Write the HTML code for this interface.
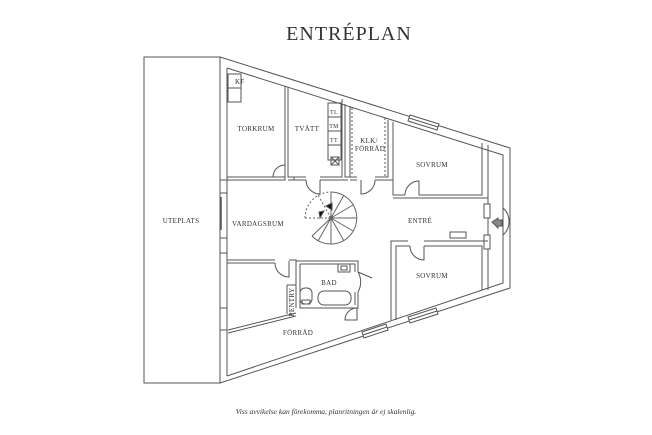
<!DOCTYPE html>
<html><head><meta charset="utf-8"><style>
html,body{margin:0;padding:0;background:#fff;width:652px;height:435px;overflow:hidden}
svg{display:block}
text{font-family:"Liberation Serif",serif;fill:#333}
.l{font-size:7px;letter-spacing:0.3px}
</style></head><body>
<svg width="652" height="435" viewBox="0 0 652 435" xmlns="http://www.w3.org/2000/svg">
<text x="349" y="40" text-anchor="middle" style="font-size:20px;letter-spacing:1px" fill="#222">ENTRÉPLAN</text>
<g fill="none" stroke="#555" stroke-width="1">
<rect x="144" y="57" width="76" height="326"/>
<polyline points="220,57 510,148 510,288 220,383"/>
<polyline points="227,68 503,155 503,283 227,376"/>
<line x1="227" y1="68" x2="227" y2="180"/>
<line x1="227" y1="193" x2="227" y2="238"/>
<line x1="227" y1="253" x2="227" y2="308"/>
<line x1="227" y1="330" x2="227" y2="376"/>
<rect x="220" y="180" width="7" height="13"/><rect x="220" y="238" width="7" height="15"/><rect x="220" y="308" width="7" height="22"/>
<line x1="221" y1="197" x2="221" y2="230" stroke-width="1.5"/>
<rect x="228" y="74" width="13" height="14"/><rect x="228" y="88" width="13" height="14"/>
<polyline points="227,177 285,177"/><polyline points="227,180 285,180 285,86"/>
<polyline points="288,87 288,177 294,177 294,180 288,180"/>
<path d="M285,165 A12,12 0 0 0 273,177" /><line x1="273" y1="177" x2="285" y2="177"/>
<polyline points="294,177 306,177"/><polyline points="294,180 306,180"/>
<path d="M306,180 A14,14 0 0 0 320,194 L320,180"/>
<polyline points="320,177 342,177 342,99"/><polyline points="320,180 348,180"/>
<rect x="328" y="103" width="13" height="57"/>
<line x1="328" y1="117" x2="341" y2="117"/><line x1="328" y1="131" x2="341" y2="131"/><line x1="328" y1="145" x2="341" y2="145"/>
<rect x="331" y="157" width="8" height="8"/><line x1="331" y1="157" x2="339" y2="165"/><line x1="339" y1="157" x2="331" y2="165"/>
<polyline points="345,104 345,177 350,177 350,106"/>
<polyline points="350,177 357,177"/><polyline points="350,180 357,180"/>
<path d="M375,180 A14,14 0 0 1 361,194 L361,180"/>
<polyline points="375,177 388,177 388,120"/><polyline points="375,180 393,180 393,122"/>
<line x1="352" y1="108" x2="352" y2="176" stroke-dasharray="2,2"/><line x1="385" y1="118" x2="385" y2="176" stroke-dasharray="2,2"/>
<polyline points="393,180 393,195 405,195"/><path d="M405,195 A14,14 0 0 1 419,181 L419,195"/>
<polyline points="419,195 482,195 482,143"/><polyline points="393,198 419,198"/><polyline points="419,198 488,198 488,145"/>
<polygon points="410,115 439,124 437,130 408,121" fill="#fff"/><line x1="409" y1="118" x2="438" y2="127"/>
<polyline points="488,198 488,204"/><rect x="484" y="204" width="6" height="14"/><rect x="484" y="235" width="6" height="14"/>
<line x1="488" y1="218" x2="488" y2="235"/><path d="M503,208 A18,18 0 0 1 503,235"/>
<polygon points="492,222 498,218 498,220 502,220 502,226 498,226 498,228" fill="#888"/>
<line x1="488" y1="249" x2="488" y2="290"/>
<g stroke="#666">
<path d="M331,192 A26,26 0 1 1 312,236"/>
<path d="M305,218 A26,26 0 0 1 331,192" stroke-dasharray="2,2"/>
<path d="M331,218 L331,192 M331,218 L344,195 M331,218 L353,205 M331,218 L357,218 M331,218 L353,231 M331,218 L344,241 M331,218 L331,244 M331,218 L318,241 M331,218 L312,236"/>
<path d="M331,218 L305,218 M331,218 L318,195" stroke-dasharray="2,2"/>
<circle cx="331" cy="218" r="2"/>
</g>
<polygon points="326,206 332,203 332,210" fill="#111"/><polygon points="319,212 324,211 320,218" fill="#111"/>
<rect x="450" y="232" width="16" height="6"/>
<polyline points="227,260 275,260"/><polyline points="227,263 275,263"/>
<path d="M275,263 A14,14 0 0 0 289,277 L289,261"/>
<polyline points="289,260 296,260 296,308"/>
<polyline points="287,285 296,285"/><line x1="287" y1="285" x2="287" y2="314"/>
<polyline points="296,261 358,261 358,272"/><polyline points="300,264 355,264 355,272"/>
<path d="M358,272 A20,20 0 0 1 358,292"/><line x1="358" y1="272" x2="372" y2="278"/>
<polyline points="358,292 358,308 300,308 300,264"/><polyline points="355,292 355,305"/>
<rect x="338" y="264" width="12" height="8"/><rect x="341" y="266" width="6" height="4"/>
<rect x="300" y="288" width="12" height="16" rx="5"/><rect x="302" y="300" width="8" height="4"/>
<rect x="318" y="291" width="33" height="14" rx="6"/>
<path d="M357,308 A12,12 0 0 0 345,320 L357,320 L357,308"/>
<line x1="228" y1="330" x2="296" y2="313"/><line x1="228" y1="333" x2="296" y2="316"/>
<polyline points="391,320 391,241 408,241"/><polyline points="396,320 396,246 410,246"/>
<path d="M410,246 A14,14 0 0 0 424,260 L424,246"/>
<polyline points="424,241 488,241"/><polyline points="424,246 482,246 482,290"/>
<polygon points="362,332 386,324 388,330 364,338" fill="#fff"/><line x1="363" y1="335" x2="387" y2="327"/>
<polygon points="408,317 436,308 438,314 410,323" fill="#fff"/><line x1="409" y1="320" x2="437" y2="311"/>
</g>
<text class="l" x="235" y="84">KF</text>
<text class="l" x="256" y="131" text-anchor="middle">TORKRUM</text>
<text class="l" x="307" y="131" text-anchor="middle">TVÄTT</text>
<text class="l" x="334" y="114" text-anchor="middle" style="font-size:6px">TL</text>
<text class="l" x="334" y="128" text-anchor="middle" style="font-size:6px">TM</text>
<text class="l" x="334" y="142" text-anchor="middle" style="font-size:6px">TT</text>
<text class="l" x="369" y="143" text-anchor="middle">KLK/</text>
<text class="l" x="370" y="151" text-anchor="middle">FÖRRÅD</text>
<text class="l" x="432" y="167" text-anchor="middle">SOVRUM</text>
<text class="l" x="181" y="223" text-anchor="middle">UTEPLATS</text>
<text class="l" x="258" y="226" text-anchor="middle">VARDAGSRUM</text>
<text class="l" x="420" y="223" text-anchor="middle">ENTRÉ</text>
<text class="l" x="432" y="278" text-anchor="middle">SOVRUM</text>
<text class="l" x="329" y="285" text-anchor="middle">BAD</text>
<text class="l" x="0" y="0" text-anchor="middle" transform="translate(294,302) rotate(-90)">PENTRY</text>
<text class="l" x="298" y="335" text-anchor="middle">FÖRRÅD</text>
<text x="326" y="414" text-anchor="middle" style="font-size:7.5px;font-style:italic">Viss avvikelse kan förekomma, planritningen är ej skalenlig.</text>
</svg>
</body></html>
